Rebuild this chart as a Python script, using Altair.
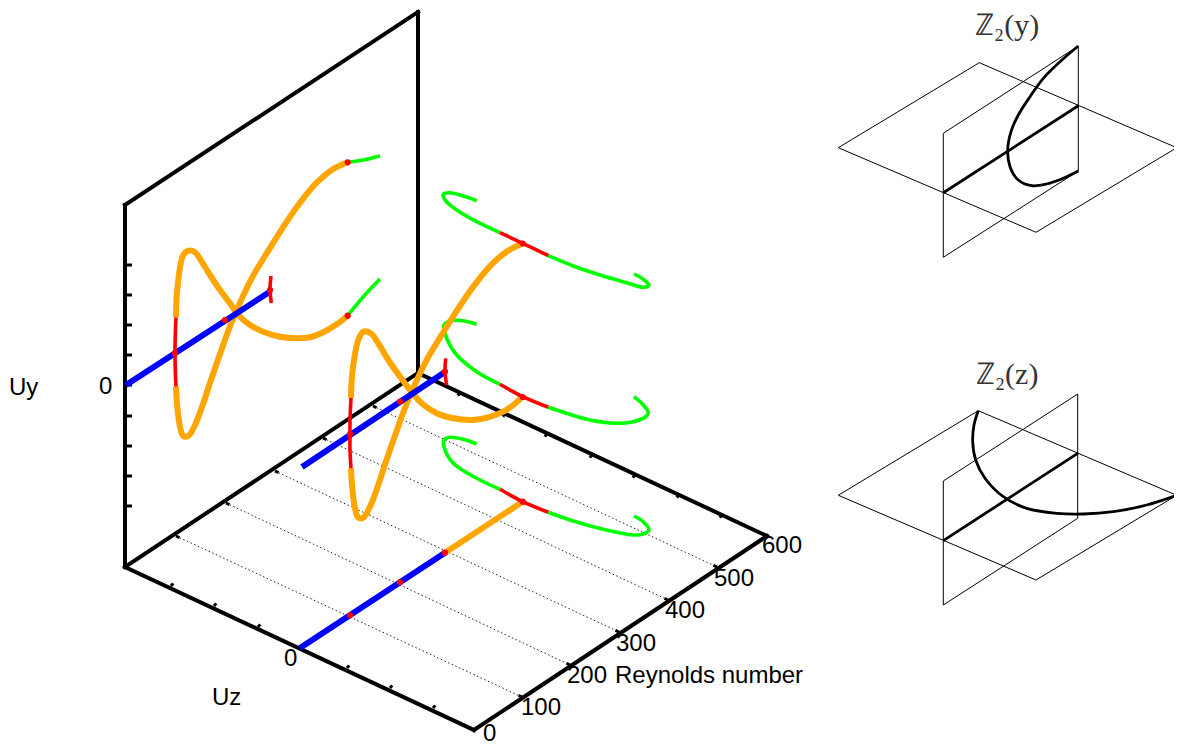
import altair as alt
import pandas as pd

# ---- values, in the picture's own plane (u, v) ----
frame = {
    "wall_left": [(125, 205), (125, 567)],
    "wall_top": [(125, 205), (418, 12)],
    "wall_right": [(418, 12), (418, 373)],
    "floor_back": [(125, 567), (418, 373)],
    "floor_left": [(125, 567), (474, 730)],
    "floor_front": [(474, 730), (767, 536)],
    "floor_right": [(418, 373), (767, 536)],
}
uy_ticks = [265, 295, 325, 355, 385, 416, 446, 476, 506]
back_ticks = [(176, 536), (226, 503), (275, 471), (323, 438), (373, 406)]
re_ticks = [(522, 697), (570, 665), (619, 632), (668, 600), (717, 567)]
uz_ticks = [(171, 586), (214, 606), (258, 627), (347, 668), (390, 688), (433, 708)]
far_ticks = [(460, 393), (505, 414), (547, 434), (592, 455), (635, 475), (679, 495), (722, 515)]

blue = {
    "wall": [(126, 385), (271, 291)],
    "mid": [(302, 467), (445, 372)],
    "floor": [(300, 648), (445, 552.7)],
}
orange_straight = [(445, 552.7), (522.7, 501.7)]
orange = {
    "wall_a": [(176, 317.3), (176.7, 296.7), (178.3, 280), (180.7, 263.3), (183.3, 255), (188.3, 250.7), (195, 252.3),
               (201.7, 261.7), (210, 275), (220, 290), (230, 303.3), (238.3, 315), (250, 325), (263.3, 331.7),
               (280, 336.7), (296.7, 338.3), (310, 337.3), (323.3, 332.3), (336.7, 324.3), (347.7, 315.7)],
    "wall_b": [(176, 386.7), (177.3, 406.7), (180, 426.7), (183.3, 436), (188.3, 436), (195, 425), (202.7, 405),
               (210.7, 380.7), (220, 354), (228.3, 330.7), (236.7, 310), (251.7, 278.3), (266.7, 253.3), (281.7, 229.3),
               (298.3, 205), (316.7, 182.7), (333.3, 169), (347.7, 162.3)],
    "mid_a": [(351, 398), (351.7, 380), (354, 360), (358.3, 340), (363.3, 331.7), (370.7, 333.3), (378.3, 343.3),
              (388.3, 360), (400, 376.7), (410, 390), (421.7, 403.3), (436.7, 413.3), (453.3, 418.3), (471.7, 420),
              (488.3, 417.3), (503.3, 411.7), (513.3, 405), (521.7, 397.3)],
    "mid_b": [(351, 468.3), (352.3, 488.3), (355, 508.3), (358.3, 517.6), (363.3, 517.6), (370, 506.6), (377.7, 486.6),
              (385.7, 462.3), (395, 435.6), (403.3, 412.3), (411.7, 391.6), (426.7, 359.9), (441.7, 334.9), (456.7, 310.9),
              (473.3, 286.6), (491.7, 264.3), (508.3, 250.6), (521.7, 244)],
}
red = {
    "wall_arc": [(176, 317.3), (175.3, 335), (175, 353), (175.3, 370), (176, 386.7)],
    "wall_end": [(271, 276), (270, 290), (271.3, 303)],
    "mid_arc": [(351, 398), (350, 420), (350, 434), (350, 450), (351, 468.3)],
    "mid_end": [(445.7, 358.3), (445, 371.7), (446.7, 385)],
    "top": [(500, 232.7), (522.7, 243.3), (548.3, 255.7)],
    "middle": [(500, 384.3), (522.7, 396.7), (548.3, 407.3)],
    "bottom": [(500, 489.3), (522.7, 501.7), (548.3, 512.3)],
}
green = {
    "wall_a": [(347.7, 315.7), (363.3, 296.7), (380, 279)],
    "wall_b": [(347.7, 162.3), (363.3, 160), (380, 155.7)],
    "top_in": [(476.7, 200.7), (463.3, 196), (450, 192.7), (443.3, 194), (445, 200), (456.7, 210), (476.7, 221.7), (500, 232.7)],
    "top_out": [(548.3, 255.7), (573.3, 266), (600, 275), (626.7, 282.7), (643.3, 287.3), (649, 285.3), (643.3, 279.3), (634, 274)],
    "mid_in": [(476.7, 324.3), (463.3, 320.7), (450, 321), (444, 325), (446.7, 338.3), (456.7, 355), (476.7, 371.7), (500, 384.3)],
    "mid_out": [(548.3, 407.3), (566.7, 413.3), (590, 420), (616.7, 423.3), (633.3, 421.7), (645, 417.3), (648.3, 412.7), (643.3, 405), (634, 396.7)],
    "bot_in": [(476.7, 444), (463.3, 439.3), (450, 437.3), (444, 440), (444, 446.7), (453.3, 463.3), (476.7, 478.3), (500, 489.3)],
    "bot_out": [(548.3, 512.3), (570, 520), (593.3, 526.7), (616.7, 532.3), (633.3, 535), (645, 533.3), (649, 530), (643.3, 521.7), (634, 516)],
}
red_points = [(175, 353), (225, 320), (270, 290), (347.7, 315.7), (347.7, 162.3),
              (350, 434), (400, 401.5), (445, 371.7), (522.7, 397), (522.7, 243.5),
              (350, 615.3), (400, 582.3), (445, 552.7), (522.7, 501.7)]

sketch_y_planes = {
    "floor": [(838.3, 147.7), (979.3, 62.7), (1176.7, 147.7), (1036, 232.3), (838.3, 147.7)],
    "wall": [(943.3, 133.3), (1078.3, 46), (1078.3, 171), (943.3, 257.3), (943.3, 133.3)],
    "floor2": [(838.3, 495.3), (978.3, 410.7), (1176.7, 495.3), (1036, 580), (838.3, 495.3)],
    "wall2": [(943.3, 481), (1077.7, 394), (1077.7, 518.3), (943.3, 605), (943.3, 481)],
}
sketch_axes = {
    "y": [(943.3, 192.7), (1078.3, 105.7)],
    "z": [(943.3, 540.7), (1077.7, 453.3)],
}
sketch_curves = {
    "y": [(1078.3, 46), (1060, 61.7), (1043.3, 78.3), (1030, 96.7), (1018.3, 115), (1011, 131.7), (1007.7, 150),
          (1010, 166.7), (1018.3, 180), (1031.7, 185.7), (1046.7, 184), (1063.3, 178.3), (1078.3, 171)],
    "z": [(978.3, 410.7), (974, 425), (972.7, 441.7), (975.7, 460), (985, 478.3), (1003.3, 496.7), (1026.7, 508.3),
          (1056.7, 513.3), (1083.3, 514), (1113.3, 511.7), (1146.7, 505), (1176.7, 495.3)],
}

labels = [
    ("Uy", 9, 395), ("0", 99, 394), ("0", 284, 666), ("Uz", 212, 705), ("0", 483, 741),
    ("100", 521, 715), ("200", 567, 683), ("300", 616, 651), ("400", 665, 618),
    ("500", 714, 586), ("600", 762, 553), ("Reynolds number", 615, 683),
]
titles = [("ℤ₂(y)", 1007, 35), ("ℤ₂(z)", 1007, 384)]

# ---- chart ----
X = alt.X("x:Q", scale=alt.Scale(domain=[8, 1174]), axis=None)
Y = alt.Y("y:Q", scale=alt.Scale(domain=[8, 747], reverse=True), axis=None)


def lines(curves, color, width, interpolate="linear", dash=None, cap="butt"):
    rows = [
        {"curve": str(name), "i": i, "x": p[0], "y": p[1]}
        for name, pts in curves.items()
        for i, p in enumerate(pts)
    ]
    opts = dict(color=color, strokeWidth=width, interpolate=interpolate, strokeCap=cap,
                strokeJoin="round", clip=False)
    if dash:
        opts["strokeDash"] = dash
    return alt.Chart(pd.DataFrame(rows)).mark_line(**opts).encode(
        x=X, y=Y, detail="curve:N", order="i:Q"
    )


def text_layer(items, size, font, color="black", align="left"):
    df = pd.DataFrame(items, columns=["label", "x", "y"])
    return alt.Chart(df).mark_text(
        font=font, fontSize=size, color=color, align=align, baseline="alphabetic"
    ).encode(x=X, y=Y, text="label:N")


grid = {i: [back_ticks[i], re_ticks[i]] for i in range(len(back_ticks))}
ticks = {}
for v in uy_ticks:
    ticks[f"uy{v}"] = [(125, v), (132, v)]
for p in back_ticks:
    ticks[f"b{p[0]}"] = [p, (p[0] + 3.5, p[1] + 1.6)]
for p in re_ticks:
    ticks[f"r{p[0]}"] = [p, (p[0] - 3.5, p[1] - 1.6)]
for p in uz_ticks:
    ticks[f"z{p[0]}"] = [p, (p[0] + 2.2, p[1] - 2.6)]
for p in far_ticks:
    ticks[f"f{p[0]}"] = [p, (p[0] - 2.2, p[1] + 2.6)]

points = pd.DataFrame(red_points, columns=["x", "y"])

chart = alt.layer(
    lines(grid, "#222222", 1, dash=[1.5, 2.5]),
    lines(ticks, "black", 3),
    lines(frame, "black", 4, cap="square"),
    lines(green, "#00ff00", 3.6, "catmull-rom"),
    lines(orange, "orange", 6, "catmull-rom"),
    lines({"s": orange_straight}, "orange", 6),
    lines(blue, "#0000ff", 6),
    lines(red, "#ff0000", 3.6, "catmull-rom"),
    alt.Chart(points).mark_circle(color="#ff0000", size=38, opacity=1).encode(x=X, y=Y),
    lines(sketch_y_planes, "black", 1),
    lines(sketch_axes, "black", 2.8),
    lines(sketch_curves, "black", 2.8, "catmull-rom"),
    text_layer(labels, 24, "Liberation Sans"),
    text_layer(titles, 30, "Liberation Serif", color="#333333", align="center"),
).properties(
    width=1166, height=739, padding=0, autosize=alt.AutoSizeParams(type="none")
).configure_view(stroke=None)

chart.save("out.html", embed_options={"renderer": "svg", "actions": False})
